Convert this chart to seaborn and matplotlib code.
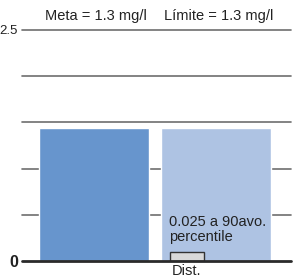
import matplotlib
matplotlib.use("Agg")
import matplotlib.pyplot as plt
import seaborn as sns
import pandas as pd

categories = ["Meta = 1.3 mg/l", "Límite = 1.3 mg/l"]
values = [1.44, 1.44]
dist_label = "Dist."
dist_value = 0.10
dist_note = "0.025 a 90avo.\npercentile"
ytick_values = [0, 0.5, 1.0, 1.5, 2.0, 2.5]
ytick_labels = ["0", "", "", "", "", "2.5"]

sns.set_theme(style="white")
plt.rcParams["font.family"] = ["Liberation Sans", "DejaVu Sans"]

fig = plt.figure(figsize=(2.93, 2.77), dpi=100)
ax = fig.add_axes([22/293, 1 - 261/277, (291-22)/293, (261-30)/277])

df = pd.DataFrame({"cat": categories, "val": values})
sns.barplot(data=df, x="cat", y="val", hue="cat", palette=["#6795CD", "#AEC3E3"],
            width=0.9, legend=False, ax=ax, zorder=3, saturation=1)

# distribution box
ax.bar([1 - 0.24], [dist_value], width=0.28, color="#D9D9D9", edgecolor="#333333",
       linewidth=1.0, zorder=4)

ax.set_xlim(-0.59, 1.615)
ax.set_ylim(0, 2.5)
ax.set_yticks(ytick_values)
ax.set_yticklabels(ytick_labels)
for lab in ax.get_yticklabels():
    if lab.get_text() == "0":
        lab.set_fontsize(11.5)
        lab.set_fontweight("bold")
    else:
        lab.set_fontsize(9.5)
    lab.set_color("#222222")
ax.tick_params(axis="y", length=0, pad=3)
ax.set_xticks([])
ax.set_xlabel("")
ax.set_ylabel("")
for s in ax.spines.values():
    s.set_visible(False)

for y in ytick_values[1:]:
    ax.axhline(y, color="#6e6e6e", linewidth=1.2, zorder=1, clip_on=False)
ax.axhline(0, color="#2a2a2a", linewidth=2.0, zorder=5, clip_on=False)

for i, c in enumerate(categories):
    ax.text(i + 0.02, 2.65, c, ha="center", va="center", fontsize=10.5, color="#222222",
            clip_on=False)

ax.text(1 - 0.385, 0.34, dist_note, ha="left", va="center", fontsize=10.5,
        color="#222222", linespacing=1.05, zorder=6)
ax.text(1 - 0.24, -0.11, dist_label, ha="center", va="center", fontsize=10.5,
        color="#222222", clip_on=False)

fig.savefig("out.png", dpi=100)
